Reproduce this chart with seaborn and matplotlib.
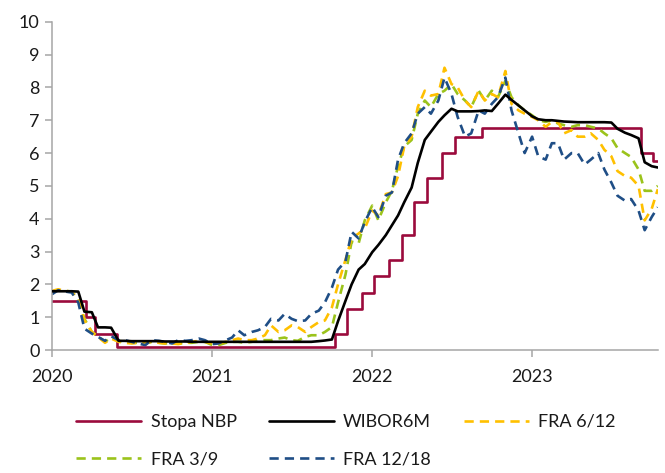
import numpy as np
import pandas as pd
import matplotlib
matplotlib.use("Agg")
import matplotlib.pyplot as plt
import matplotlib.dates as mdates
import seaborn as sns

# semi-monthly observation dates (1st and 15th), Jan 2020 - mid Oct 2023
dates = pd.date_range("2020-01-01", "2023-10-15", freq="SMS")

wibor6m = [1.79, 1.79, 1.79, 1.79, 1.78, 1.17, 1.15, 0.69, 0.69, 0.68,
           0.28, 0.28, 0.27, 0.27, 0.27, 0.27, 0.27, 0.26, 0.26, 0.26,
           0.26, 0.25, 0.25, 0.25, 0.25, 0.25, 0.25, 0.25, 0.25, 0.25,
           0.25, 0.25, 0.25, 0.25, 0.25, 0.25, 0.25, 0.25, 0.25, 0.25,
           0.27, 0.29, 0.32, 0.88, 1.50, 2.00, 2.45, 2.62, 2.98, 3.20,
           3.50, 3.80, 4.10, 4.50, 4.95, 5.70, 6.40, 6.65, 6.95, 7.15,
           7.35, 7.27, 7.27, 7.27, 7.28, 7.30, 7.28, 7.50, 7.78, 7.62,
           7.45, 7.30, 7.12, 7.03, 7.00, 7.00, 6.98, 6.96, 6.95, 6.94,
           6.94, 6.94, 6.94, 6.94, 6.93, 6.74, 6.62, 6.55, 6.45, 5.72,
           5.60, 5.56]

fra_3_9 = [1.75, 1.82, 1.80, 1.78, 1.55, 0.95, 0.55, 0.42, 0.25, 0.38,
           0.28, 0.25, 0.22, 0.22, 0.20, 0.25, 0.22, 0.20, 0.22, 0.20,
           0.22, 0.22, 0.25, 0.25, 0.15, 0.15, 0.22, 0.25, 0.25, 0.22,
           0.25, 0.30, 0.30, 0.30, 0.35, 0.38, 0.30, 0.28, 0.40, 0.45,
           0.45, 0.55, 0.70, 1.45, 2.30, 3.30, 3.25, 3.95, 4.40, 3.95,
           4.50, 4.85, 5.60, 6.20, 6.40, 7.20, 7.60, 7.40, 7.80, 7.90,
           8.10, 7.80, 7.60, 7.40, 7.90, 7.60, 7.90, 7.70, 8.20, 7.70,
           7.45, 7.30, 7.15, 7.00, 6.95, 7.00, 6.90, 6.85, 6.80, 6.85,
           6.85, 6.80, 6.75, 6.60, 6.45, 6.15, 6.00, 5.88, 5.50, 4.85,
           4.85, 5.00]

fra_6_12 = [1.80, 1.85, 1.80, 1.78, 1.55, 0.90, 0.55, 0.40, 0.22, 0.35,
            0.25, 0.22, 0.20, 0.22, 0.20, 0.25, 0.22, 0.20, 0.20, 0.18,
            0.22, 0.25, 0.28, 0.25, 0.20, 0.20, 0.25, 0.30, 0.35, 0.30,
            0.30, 0.35, 0.45, 0.75, 0.55, 0.60, 0.75, 0.70, 0.55, 0.70,
            0.85, 0.90, 1.30, 2.00, 2.75, 3.40, 3.55, 3.70, 4.25, 4.10,
            4.75, 4.80, 5.30, 6.20, 6.50, 7.40, 7.90, 7.75, 7.80, 8.60,
            8.10, 8.00, 7.60, 7.40, 7.90, 7.60, 7.80, 7.70, 8.50, 7.50,
            7.30, 7.20, 7.10, 7.00, 6.80, 6.95, 6.95, 6.60, 6.70, 6.50,
            6.50, 6.60, 6.40, 6.10, 5.90, 5.45, 5.30, 5.25, 5.00, 3.95,
            4.30, 4.90]

fra_12_18 = [1.70, 1.82, 1.78, 1.75, 1.45, 0.65, 0.50, 0.40, 0.28, 0.42,
             0.30, 0.30, 0.25, 0.20, 0.15, 0.30, 0.28, 0.25, 0.20, 0.30,
             0.28, 0.30, 0.35, 0.30, 0.18, 0.20, 0.30, 0.38, 0.60, 0.45,
             0.55, 0.60, 0.70, 0.95, 0.90, 1.10, 0.95, 0.88, 0.90, 1.10,
             1.20, 1.45, 1.90, 2.45, 2.70, 3.60, 3.40, 3.90, 4.35, 4.05,
             4.70, 4.80, 5.80, 6.30, 6.60, 7.20, 7.40, 7.20, 7.60, 8.30,
             7.80, 7.10, 6.50, 6.60, 7.30, 7.20, 7.50, 7.70, 8.30, 7.30,
             6.60, 6.00, 6.50, 5.90, 5.80, 6.30, 6.30, 5.80, 6.00, 6.00,
             5.65, 5.80, 6.00, 5.50, 5.10, 4.70, 4.55, 4.60, 4.25, 3.65,
             4.05, 4.35]

# NBP reference rate: decision effective dates and levels (step series)
nbp_dates = pd.to_datetime([
    "2020-01-01", "2020-03-18", "2020-04-09", "2020-05-29", "2021-10-07",
    "2021-11-04", "2021-12-09", "2022-01-05", "2022-02-09", "2022-03-09",
    "2022-04-07", "2022-05-06", "2022-06-09", "2022-07-08", "2022-09-08",
    "2023-09-07", "2023-10-05", "2023-10-15"])
nbp_rate = [1.50, 1.00, 0.50, 0.10, 0.50, 1.25, 1.75, 2.25, 2.75, 3.50,
            4.50, 5.25, 6.00, 6.50, 6.75, 6.00, 5.75, 5.75]

series_names = ["WIBOR6M", "FRA 3/9", "FRA 6/12", "FRA 12/18"]
colors = {"Stopa NBP": "#9B0A3C", "WIBOR6M": "#000000",
          "FRA 3/9": "#9BC31B", "FRA 6/12": "#FFC000", "FRA 12/18": "#1F4E86"}
dash = (3.5, 2.3)

df = pd.concat([
    pd.DataFrame({"date": dates, "value": vals, "series": name})
    for name, vals in zip(series_names, [wibor6m, fra_3_9, fra_6_12, fra_12_18])
])
nbp = pd.DataFrame({"date": nbp_dates, "value": nbp_rate})

sns.set_style("ticks")
plt.rcParams["font.family"] = ["Lato", "DejaVu Sans"]
plt.rcParams["text.color"] = "#1a1a1a"

fig = plt.figure(figsize=(6.65, 4.73), dpi=100)
ax = fig.add_axes([0.0782, 0.260, 0.911, 0.694])

sns.lineplot(data=nbp, x="date", y="value", ax=ax, color=colors["Stopa NBP"],
             linewidth=1.9, drawstyle="steps-post", label="Stopa NBP")
sns.lineplot(data=df, x="date", y="value", hue="series", style="series",
             palette=colors, estimator=None, linewidth=1.9, ax=ax,
             dashes={"WIBOR6M": "", "FRA 3/9": dash, "FRA 6/12": dash,
                     "FRA 12/18": dash})
# keep the WIBOR line on top like the original
for ln in ax.get_lines():
    if ln.get_color() in ("#000000", "k"):
        ln.set_zorder(4)

ax.set_xlim(pd.Timestamp("2020-01-01"), pd.Timestamp("2023-10-15"))
ax.set_ylim(0, 10)
ax.set_yticks(range(0, 11))
ax.xaxis.set_major_locator(mdates.YearLocator())
ax.xaxis.set_major_formatter(mdates.DateFormatter("%Y"))
ax.set_xlabel("")
ax.set_ylabel("")

for side in ("top", "right"):
    ax.spines[side].set_visible(False)
for side in ("left", "bottom"):
    ax.spines[side].set_color("#A6A6A6")
    ax.spines[side].set_linewidth(1.1)
ax.tick_params(axis="both", colors="#A6A6A6", labelcolor="#1a1a1a",
               labelsize=13, length=5, width=1.1)
ax.tick_params(axis="y", pad=4)
ax.tick_params(axis="x", pad=9)

handles, labels = ax.get_legend_handles_labels()
lookup = dict(zip(labels, handles))
ax.get_legend().remove()
order = ["Stopa NBP", "FRA 3/9", "WIBOR6M", "FRA 12/18", "FRA 6/12"]
hs = [lookup[n] for n in order]
for h in hs:
    h.set_linewidth(1.9)
fig.legend(hs, order, loc="upper left", bbox_to_anchor=(0.115, 0.125),
           ncol=3, frameon=False, fontsize=13, handlelength=3.6,
           handletextpad=0.5, columnspacing=1.8, labelspacing=1.2,
           borderpad=0, borderaxespad=0)

fig.savefig("out.png", dpi=100)
